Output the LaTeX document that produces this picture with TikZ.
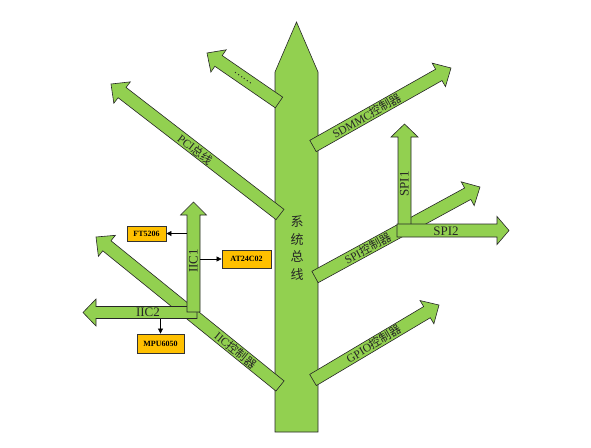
\documentclass[tikz,border=0pt]{standalone}
\usepackage{fontspec}
\setmainfont{Liberation Serif}
\newfontfamily\cjk{Noto Sans CJK SC}
\usetikzlibrary{calc,arrows.meta}
\definecolor{leaf}{HTML}{92D050}
\definecolor{chip}{HTML}{FFC000}
\tikzset{
  fat/.style={draw=black!85, fill=leaf, line width=0.6pt, line join=miter},
  lbl/.style={font=\fontsize{11.5}{13}\selectfont, text=black!85, inner sep=0pt},
  sublbl/.style={lbl, font=\fontsize{13}{15}\selectfont},
  trunktext/.style={font=\cjk\fontsize{13}{17.5}\selectfont, text=black!85, align=center, inner sep=0pt},
  chipbox/.style={draw=black!80, fill=chip, line width=0.8pt, font=\bfseries\fontsize{8}{9}\selectfont, inner sep=0pt},
  link/.style={-{Triangle[length=5pt,width=5pt]}, line width=0.6pt, black},
}
% #1 extra style, #2 tail, #3 tip, #4 half shaft width, #5 half head width, #6 head length
\newcommand\fatarrow[6][]{%
  \coordinate (neck) at ($(#3)!#6!(#2)$);
  \draw[fat,#1] ($(#2)!#4!90:(#3)$) -- ($(neck)!#4!90:(#3)$) -- ($(neck)!#5!90:(#3)$)
    -- (#3) -- ($(neck)!#5!-90:(#3)$) -- ($(neck)!#4!-90:(#3)$) -- ($(#2)!#4!-90:(#3)$) -- cycle;
}
\begin{document}
\begin{tikzpicture}[x=1pt,y=-1pt]
\useasboundingbox (0,0) rectangle (591,447);
% trunk
\draw[fat] (275,432) -- (275,72) -- (296.5,22) -- (318,72) -- (318,432) -- cycle;
\node[trunktext] (bus) at (297,248) {系\\统\\总\\线};

% end points
\coordinate (pciT) at (280,214.5);  \coordinate (pciH) at (111,84);
\coordinate (etcT) at (279,102.5);  \coordinate (etcH) at (207,53);
\coordinate (sdT)  at (313,146);    \coordinate (sdH)  at (451,68);
\coordinate (spiT) at (315,277);    \coordinate (spiH) at (480,187);
\coordinate (gpT)  at (313,380);    \coordinate (gpH)  at (439,305);
\coordinate (iicT) at (280,386);    \coordinate (iicH) at (96,237);
\coordinate (i1T)  at (193.5,312);  \coordinate (i1H)  at (193.5,202);
\coordinate (i2T)  at (197,312.5);  \coordinate (i2H)  at (83,312.5);
\coordinate (s1T)  at (404.5,236);  \coordinate (s1H)  at (404.5,124);
\coordinate (s2T)  at (397,230.5);  \coordinate (s2H)  at (509,230.5);

% branches
\fatarrow{pciT}{pciH}{6.5pt}{13.5pt}{14pt}
\path (pciT) -- (pciH) node[lbl, sloped, pos=0.5] (pciL) {PCI{\cjk 总线}};
\fatarrow{etcT}{etcH}{6.5pt}{13.5pt}{14pt}
\path (etcT) -- (etcH) node[lbl, sloped, pos=0.5, font=\cjk\fontsize{10}{12}\selectfont] (etcL) {……};
\fatarrow{sdT}{sdH}{6.5pt}{13.5pt}{14pt}
\path (sdT) -- (sdH) node[lbl, sloped, pos=0.39] (sdL) {SDMMC{\cjk 控制器}};
\fatarrow{gpT}{gpH}{6.5pt}{13.5pt}{14pt}
\path (gpT) -- (gpH) node[lbl, sloped, pos=0.48] (gpL) {GPIO{\cjk 控制器}};
\fatarrow{iicT}{iicH}{6.5pt}{13.5pt}{14pt}
\path (iicT) -- (iicH) node[lbl, sloped, pos=0.24] (iicL) {IIC{\cjk 控制器}};
\fatarrow{spiT}{spiH}{6.5pt}{13.5pt}{14pt}
\path (spiT) -- (spiH) node[lbl, sloped, pos=0.32] (spiL) {SPI{\cjk 控制器}};

% IIC sub-branches
\fatarrow{i2T}{i2H}{6pt}{13.5pt}{13pt}
\node[sublbl] (i2L) at (148,312.5) {IIC2};
\fatarrow{i1T}{i1H}{6.5pt}{13pt}{13pt}
\node[sublbl, rotate=90] (i1L) at (193.5,261) {IIC1};

% SPI sub-branches
\fatarrow{s1T}{s1H}{6.5pt}{13.5pt}{13pt}
\node[sublbl, rotate=90] (s1L) at (404.5,184) {SPI1};
\fatarrow{s2T}{s2H}{6.5pt}{14pt}{12pt}
\node[sublbl] (s2L) at (446,231) {SPI2};

% devices
\node[chipbox, minimum width=39pt, minimum height=15pt] (ft) at (146.5,233.5) {FT5206};
\node[chipbox, minimum width=49pt, minimum height=18pt] (at) at (246.5,259) {AT24C02};
\node[chipbox, minimum width=47pt, minimum height=19pt] (mpu) at (160.5,343.5) {MPU6050};
\coordinate (ftS) at (187,233.5);
\coordinate (atS) at (200,259);
\coordinate (mpuS) at (160.5,318.5);
\draw[link] (ftS) -- (ft.east);
\draw[link] (atS) -- (at.west);
\draw[link] (mpuS) -- (mpu.north);
\end{tikzpicture}
\end{document}
